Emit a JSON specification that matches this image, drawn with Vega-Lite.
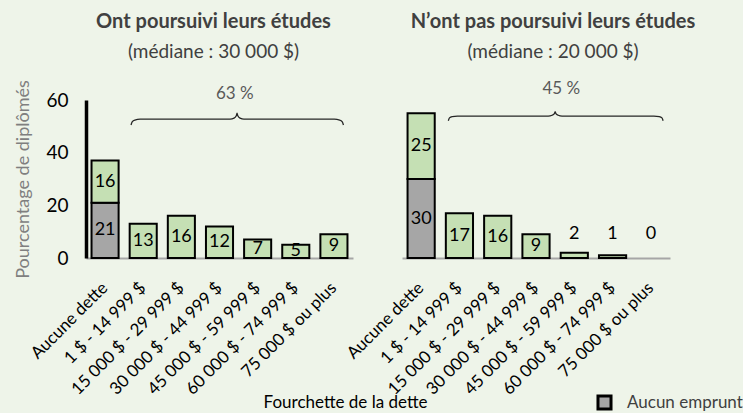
{
  "$schema": "https://vega.github.io/schema/vega-lite/v6.json",
  "background": "#EEF4E9",
  "padding": {"left": 14, "top": 11, "right": 0, "bottom": 0},
  "datasets": {
    "bars": [
      {"panel": "L", "cat": "Aucune dette", "type": "Aucun emprunt", "value": 21},
      {"panel": "L", "cat": "Aucune dette", "type": "Avec emprunt", "value": 16},
      {"panel": "L", "cat": "1 $ - 14 999 $", "type": "Avec emprunt", "value": 13},
      {"panel": "L", "cat": "15 000 $ - 29 999 $", "type": "Avec emprunt", "value": 16},
      {"panel": "L", "cat": "30 000 $ - 44 999 $", "type": "Avec emprunt", "value": 12},
      {"panel": "L", "cat": "45 000 $ - 59 999 $", "type": "Avec emprunt", "value": 7},
      {"panel": "L", "cat": "60 000 $ - 74 999 $", "type": "Avec emprunt", "value": 5},
      {"panel": "L", "cat": "75 000 $ ou plus", "type": "Avec emprunt", "value": 9},
      {"panel": "R", "cat": "Aucune dette", "type": "Aucun emprunt", "value": 30},
      {"panel": "R", "cat": "Aucune dette", "type": "Avec emprunt", "value": 25},
      {"panel": "R", "cat": "1 $ - 14 999 $", "type": "Avec emprunt", "value": 17},
      {"panel": "R", "cat": "15 000 $ - 29 999 $", "type": "Avec emprunt", "value": 16},
      {"panel": "R", "cat": "30 000 $ - 44 999 $", "type": "Avec emprunt", "value": 9},
      {"panel": "R", "cat": "45 000 $ - 59 999 $", "type": "Avec emprunt", "value": 2},
      {"panel": "R", "cat": "60 000 $ - 74 999 $", "type": "Avec emprunt", "value": 1},
      {"panel": "R", "cat": "75 000 $ ou plus", "type": "Avec emprunt", "value": 0}
    ],
    "brace": [
      {"panel": "L", "bx": 0.68, "by": 50.5}, {"panel": "L", "bx": 0.71, "by": 51.7}, {"panel": "L", "bx": 0.78, "by": 52.4}, {"panel": "L", "bx": 0.92, "by": 52.7},
      {"panel": "L", "bx": 3.28, "by": 52.7}, {"panel": "L", "bx": 3.38, "by": 53.1}, {"panel": "L", "bx": 3.44, "by": 54.0}, {"panel": "L", "bx": 3.46, "by": 55.0},
      {"panel": "L", "bx": 3.48, "by": 54.0}, {"panel": "L", "bx": 3.54, "by": 53.1}, {"panel": "L", "bx": 3.64, "by": 52.7},
      {"panel": "L", "bx": 6.01, "by": 52.7}, {"panel": "L", "bx": 6.15, "by": 52.4}, {"panel": "L", "bx": 6.22, "by": 51.7}, {"panel": "L", "bx": 6.25, "by": 50.5},
      {"panel": "R", "bx": 0.71, "by": 52.1}, {"panel": "R", "bx": 0.74, "by": 53.2}, {"panel": "R", "bx": 0.81, "by": 53.7}, {"panel": "R", "bx": 0.95, "by": 53.9},
      {"panel": "R", "bx": 3.32, "by": 53.9}, {"panel": "R", "bx": 3.42, "by": 54.2}, {"panel": "R", "bx": 3.48, "by": 54.8}, {"panel": "R", "bx": 3.5, "by": 55.6},
      {"panel": "R", "bx": 3.52, "by": 54.8}, {"panel": "R", "bx": 3.58, "by": 54.2}, {"panel": "R", "bx": 3.68, "by": 53.9},
      {"panel": "R", "bx": 6.08, "by": 53.9}, {"panel": "R", "bx": 6.22, "by": 53.7}, {"panel": "R", "bx": 6.29, "by": 53.2}, {"panel": "R", "bx": 6.32, "by": 52.1}
    ],
    "notes": [
      {"panel": "L", "bx": 3.4, "by": 62.4, "label": "63 %"},
      {"panel": "R", "bx": 3.66, "by": 64.2, "label": "45 %"}
    ]
  },
  "spacing": 49,
  "bounds": "flush",
  "resolve": {"scale": {"color": "shared"}, "legend": {"color": "shared"}},
  "hconcat": [
    {
      "width": 267,
      "height": 158,
      "title": {"text": "Ont poursuivi leurs études", "subtitle": "(médiane : 30 000 $)", "frame": "group", "anchor": "middle", "dx": -6, "offset": 18, "fontSize": 20, "fontWeight": "bold", "color": "#404040", "subtitleFontSize": 19, "subtitleColor": "#404040", "subtitlePadding": 11},
      "layer": [
        {
          "data": {"name": "bars"},
          "transform": [
            {"filter": "datum.panel == 'L'"},
            {"stack": "value", "groupby": ["cat"], "sort": [{"field": "type", "order": "ascending"}], "as": ["v0", "v1"]},
            {"calculate": "(datum.v0 + datum.v1) / 2", "as": "ymid"}
          ],
          "encoding": {
            "x": {"field": "cat", "type": "nominal", "sort": null,
              "scale": {"domain": ["Aucune dette", "1 $ - 14 999 $", "15 000 $ - 29 999 $", "30 000 $ - 44 999 $", "45 000 $ - 59 999 $", "60 000 $ - 74 999 $", "75 000 $ ou plus"], "paddingInner": 0.29, "paddingOuter": 0.145},
              "axis": {"title": "Fourchette de la dette", "titleX": 259, "titleY": 136, "titleFontSize": 17, "titleFontWeight": "normal", "titleColor": "black", "labelAngle": -45, "labelAlign": "right", "labelBaseline": "middle", "labelFontSize": 17, "labelColor": "black", "labelPadding": 27, "ticks": false, "domainColor": "#A6A6A6", "domainWidth": 2}}
          },
          "layer": [
            {
              "transform": [{"filter": "datum.value > 0"}],
              "mark": {"type": "bar", "stroke": "black", "strokeWidth": 2},
              "encoding": {
                "y": {"field": "v0", "type": "quantitative", "scale": {"domain": [0, 60]}, "title": "Pourcentage de diplômés",
                  "axis": {"values": [0, 20, 40, 60], "grid": false, "ticks": false, "domainColor": "black", "domainWidth": 3.5, "labelFontSize": 19, "labelColor": "black", "labelPadding": 18, "titleFontSize": 18, "titleFontWeight": "normal", "titleColor": "#7F7F7F", "titlePadding": 13}},
                "y2": {"field": "v1"},
                "color": {"field": "type", "type": "nominal", "scale": {"domain": ["Aucun emprunt", "Avec emprunt"], "range": ["#A6A6A6", "#C5E0B4"]},
                  "legend": {"values": ["Aucun emprunt"], "orient": "none", "legendX": 510, "legendY": 294, "title": null, "symbolType": "square", "symbolSize": 170, "symbolStrokeColor": "black", "symbolStrokeWidth": 3, "labelFontSize": 17, "labelColor": "#404040", "labelOffset": 14,
                    "encode": {"symbols": {"update": {"fill": {"value": "#BFBFBF"}, "stroke": {"value": "black"}, "strokeWidth": {"value": 3}}}}}}
              }
            },
            {
              "mark": {"type": "text", "fontSize": 18, "color": "black", "baseline": "middle"},
              "encoding": {
                "y": {"field": "ymid", "type": "quantitative", "title": "Pourcentage de diplômés"},
                "text": {"field": "value"}
              }
            }
          ]
        },
        {
          "encoding": {
            "x": {"field": "bx", "type": "quantitative", "scale": {"domain": [-0.5, 6.5], "nice": false, "zero": false}, "axis": null},
            "y": {"field": "by", "type": "quantitative", "title": "Pourcentage de diplômés"}
          },
          "layer": [
            {
              "data": {"name": "brace"},
              "transform": [{"filter": "datum.panel == 'L'"}],
              "mark": {"type": "line", "color": "#262626", "strokeWidth": 1.3, "interpolate": "monotone"}
            },
            {
              "data": {"name": "notes"},
              "transform": [{"filter": "datum.panel == 'L'"}],
              "mark": {"type": "text", "fontSize": 17, "color": "#595959", "baseline": "middle"},
              "encoding": {"text": {"field": "label"}}
            }
          ]
        }
      ],
      "resolve": {"scale": {"x": "independent"}, "axis": {"x": "independent"}}
    },
    {
      "width": 268,
      "height": 158,
      "title": {"text": "N’ont pas poursuivi leurs études", "subtitle": "(médiane : 20 000 $)", "frame": "group", "anchor": "middle", "dx": 17, "offset": 18, "fontSize": 20, "fontWeight": "bold", "color": "#404040", "subtitleFontSize": 19, "subtitleColor": "#404040", "subtitlePadding": 11},
      "layer": [
        {
          "data": {"name": "bars"},
          "transform": [
            {"filter": "datum.panel == 'R'"},
            {"stack": "value", "groupby": ["cat"], "sort": [{"field": "type", "order": "ascending"}], "as": ["v0", "v1"]},
            {"calculate": "datum.value < 5 ? 9.1 : (datum.v0 + datum.v1) / 2", "as": "ymid"}
          ],
          "encoding": {
            "x": {"field": "cat", "type": "nominal", "sort": null,
              "scale": {"domain": ["Aucune dette", "1 $ - 14 999 $", "15 000 $ - 29 999 $", "30 000 $ - 44 999 $", "45 000 $ - 59 999 $", "60 000 $ - 74 999 $", "75 000 $ ou plus"], "paddingInner": 0.29, "paddingOuter": 0.145},
              "axis": {"title": null, "labelAngle": -45, "labelAlign": "right", "labelBaseline": "middle", "labelFontSize": 17, "labelColor": "black", "labelPadding": 27, "ticks": false, "domainColor": "#A6A6A6", "domainWidth": 2}}
          },
          "layer": [
            {
              "transform": [{"filter": "datum.value > 0"}],
              "mark": {"type": "bar", "stroke": "black", "strokeWidth": 2},
              "encoding": {
                "y": {"field": "v0", "type": "quantitative", "scale": {"domain": [0, 60]}, "axis": null},
                "y2": {"field": "v1"},
                "color": {"field": "type", "type": "nominal", "scale": {"domain": ["Aucun emprunt", "Avec emprunt"], "range": ["#A6A6A6", "#C5E0B4"]},
                  "legend": {"values": ["Aucun emprunt"], "orient": "none", "legendX": 510, "legendY": 294, "title": null, "symbolType": "square", "symbolSize": 170, "symbolStrokeColor": "black", "symbolStrokeWidth": 3, "labelFontSize": 17, "labelColor": "#404040", "labelOffset": 14,
                    "encode": {"symbols": {"update": {"fill": {"value": "#BFBFBF"}, "stroke": {"value": "black"}, "strokeWidth": {"value": 3}}}}}}
              }
            },
            {
              "mark": {"type": "text", "fontSize": 18, "color": "black", "baseline": "middle"},
              "encoding": {
                "y": {"field": "ymid", "type": "quantitative", "axis": null},
                "text": {"field": "value"}
              }
            }
          ]
        },
        {
          "encoding": {
            "x": {"field": "bx", "type": "quantitative", "scale": {"domain": [-0.5, 6.5], "nice": false, "zero": false}, "axis": null},
            "y": {"field": "by", "type": "quantitative", "axis": null}
          },
          "layer": [
            {
              "data": {"name": "brace"},
              "transform": [{"filter": "datum.panel == 'R'"}],
              "mark": {"type": "line", "color": "#262626", "strokeWidth": 1.3, "interpolate": "monotone"}
            },
            {
              "data": {"name": "notes"},
              "transform": [{"filter": "datum.panel == 'R'"}],
              "mark": {"type": "text", "fontSize": 17, "color": "#595959", "baseline": "middle"},
              "encoding": {"text": {"field": "label"}}
            }
          ]
        }
      ],
      "resolve": {"scale": {"x": "independent"}, "axis": {"x": "independent"}}
    }
  ],
  "config": {"font": "Lato", "view": {"stroke": null}, "axis": {"grid": false}}
}
